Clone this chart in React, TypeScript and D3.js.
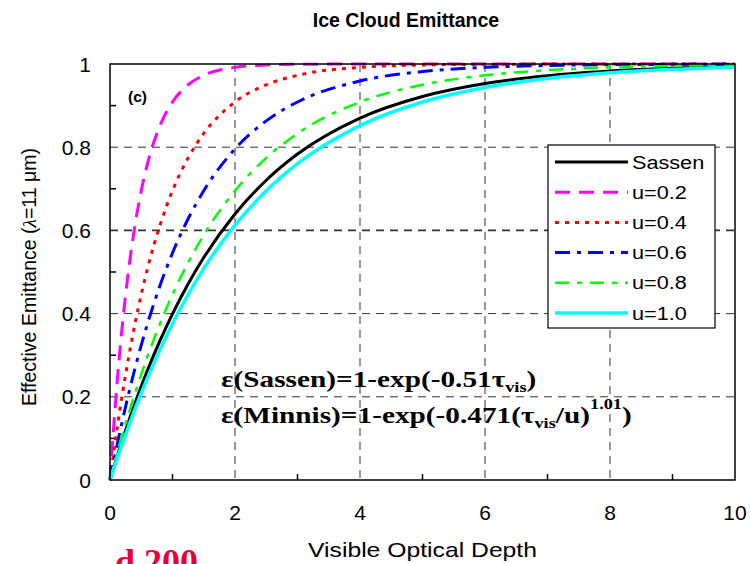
import React from "react";
import * as d3 from "d3";

const tau = [0, 0.05, 0.1, 0.15, 0.2, 0.3, 0.4, 0.5, 0.6, 0.8, 1, 1.25, 1.5, 2, 2.5, 3, 4, 5, 6, 7, 8, 10];
const sassen = [0, 0.0252, 0.0497, 0.0736, 0.097, 0.1419, 0.1845, 0.2251, 0.2636, 0.335, 0.3995, 0.4714, 0.5347, 0.6394, 0.7206, 0.7835, 0.87, 0.9219, 0.9531, 0.9718, 0.9831, 0.9939];
const u02 = [0, 0.1096, 0.2085, 0.2969, 0.3756, 0.508, 0.6127, 0.6953, 0.7604, 0.852, 0.9087, 0.9501, 0.9728, 0.9919, 0.9976, 0.9993, 0.9999, 1, 1, 1, 1, 1];
const u04 = [0, 0.056, 0.1096, 0.1605, 0.2085, 0.2969, 0.3756, 0.4457, 0.508, 0.6127, 0.6953, 0.7743, 0.833, 0.9087, 0.9501, 0.9728, 0.9919, 0.9976, 0.9993, 0.9998, 0.9999, 1];
const u06 = [0, 0.0376, 0.0742, 0.1096, 0.1438, 0.2085, 0.2686, 0.3241, 0.3756, 0.4673, 0.5457, 0.6279, 0.6953, 0.7959, 0.8634, 0.9087, 0.9592, 0.9819, 0.9919, 0.9964, 0.9984, 0.9997];
const u08 = [0, 0.0282, 0.056, 0.0832, 0.1096, 0.1605, 0.2085, 0.254, 0.2969, 0.3756, 0.4457, 0.5225, 0.5888, 0.6953, 0.7743, 0.833, 0.9087, 0.9501, 0.9728, 0.9852, 0.9919, 0.9976];
const u10 = [0, 0.0226, 0.045, 0.067, 0.0885, 0.1303, 0.1703, 0.2085, 0.2451, 0.3134, 0.3756, 0.4457, 0.508, 0.6127, 0.6953, 0.7604, 0.852, 0.9087, 0.9437, 0.9653, 0.9787, 0.9919];

const seriesNames = ["Sassen", "u=0.2", "u=0.4", "u=0.6", "u=0.8", "u=1.0"];
const seriesValues = [sassen, u02, u04, u06, u08, u10];
const xTicks = [0, 2, 4, 6, 8, 10];
const yTicks = [0, 0.2, 0.4, 0.6, 0.8, 1];
const yTickLabels = ["0", "0.2", "0.4", "0.6", "0.8", "1"];
const xMinor = [1, 3, 5, 7, 9];
const yMinor = [0.1, 0.3, 0.5, 0.7, 0.9];

const styles = [
  { color: "#000000", width: 3, dash: "" },
  { color: "#ff00ff", width: 3, dash: "15,9" },
  { color: "#ff0000", width: 3, dash: "4,6" },
  { color: "#0000ff", width: 3, dash: "15,7,4,7" },
  { color: "#00ff00", width: 2.5, dash: "14,8,5,8" },
  { color: "#00ffff", width: 3.5, dash: "" },
];

export default function App() {
  const W = 751, H = 564;
  const L = 110, R = 735, T = 64, B = 480;
  const x = d3.scaleLinear().domain([0, 10]).range([L, R]);
  const y = d3.scaleLinear().domain([0, 1]).range([B, T]);
  const line = d3
    .line<number>()
    .x((_, i) => x(tau[i]))
    .y((v) => y(v))
    .curve(d3.curveMonotoneX);
  const font = "'Liberation Sans', Arial, sans-serif";
  const serif = "'Liberation Serif', 'Times New Roman', serif";
  const legX = 548, legY = 145, legW = 167, legH = 183;

  return (
    <svg width={W} height={H} style={{ position: "absolute", left: 0, top: 0, background: "#fff" }} fontFamily={font}>
      <rect x={0} y={0} width={W} height={H} fill="#fff" />
      <text x={406} y={27} textAnchor="middle" fontSize={19.5} fontWeight="bold">Ice Cloud Emittance</text>

      {/* grid */}
      {xTicks.slice(1, -1).map((t) => (
        <line key={"gx" + t} x1={x(t)} x2={x(t)} y1={T} y2={B} stroke="#333" strokeWidth={1} strokeDasharray="8,6" />
      ))}
      {yTicks.slice(1, -1).map((t) => (
        <line key={"gy" + t} x1={L} x2={R} y1={y(t)} y2={y(t)} stroke="#333" strokeWidth={t === 0.6 ? 1.6 : 1} strokeDasharray="8,6" />
      ))}
      {xMinor.map((t) => (
        <line key={"mx" + t} x1={x(t)} x2={x(t)} y1={B} y2={B - 6} stroke="#000" strokeWidth={1.5} />
      ))}
      {yMinor.map((t) => (
        <line key={"my" + t} x1={L} x2={L + 6} y1={y(t)} y2={y(t)} stroke="#000" strokeWidth={1.5} />
      ))}

      {/* curves */}
      <g>
        {seriesValues.map((vals, i) => (
          <path key={seriesNames[i]} d={line(vals) || ""} fill="none" stroke={styles[i].color} strokeWidth={styles[i].width} strokeDasharray={styles[i].dash} strokeLinejoin="round" />
        ))}
      </g>

      <rect x={L} y={T} width={R - L} height={B - T} fill="none" stroke="#000" strokeWidth={1.5} />

      {/* tick labels */}
      {xTicks.map((t) => (
        <text key={"tx" + t} x={x(t)} y={520} textAnchor="middle" fontSize={21}>{t}</text>
      ))}
      {yTicks.map((t, i) => (
        <text key={"ty" + t} x={91} y={y(t) + 7.5} textAnchor="end" fontSize={21}>{yTickLabels[i]}</text>
      ))}

      <text x={422.5} y={557} textAnchor="middle" fontSize={21} textLength={229} lengthAdjust="spacingAndGlyphs">Visible Optical Depth</text>
      <text transform={`translate(36,277) rotate(-90)`} textAnchor="middle" fontSize={19.5}>
        Effective Emittance (<tspan fontFamily={serif} fontStyle="italic">λ</tspan>=11 μm)
      </text>

      <text x={128} y={102} fontSize={15.5} fontWeight="bold">(c)</text>

      {/* legend */}
      <rect x={legX} y={legY} width={legW} height={legH} fill="#fff" stroke="#000" strokeWidth={1.2} />
      {seriesNames.map((n, i) => {
        const yy = 162 + i * 30.2;
        return (
          <g key={"lg" + n}>
            <line x1={555} x2={628} y1={yy} y2={yy} stroke={styles[i].color} strokeWidth={styles[i].width} strokeDasharray={styles[i].dash} />
            <g transform={`translate(632,${yy + 6.5}) scale(1.14,1)`}>
              <text x={0} y={0} fontSize={19}>{n}</text>
            </g>
          </g>
        );
      })}

      {/* formulas */}
      <g transform="translate(221,387) scale(1.22,1)">
        <text x={0} y={0} fontFamily={serif} fontWeight="bold" fontSize={24}>
          ε(Sassen)=1-exp(-0.51τ<tspan fontSize={15} dy={5}>vis</tspan><tspan dy={-5}>)</tspan>
        </text>
      </g>
      <g transform="translate(221,423) scale(1.22,1)">
        <text x={0} y={0} fontFamily={serif} fontWeight="bold" fontSize={24}>
          ε(Minnis)=1-exp(-0.471(τ<tspan fontSize={15} dy={5}>vis</tspan><tspan dy={-5}>/u)</tspan><tspan fontSize={15} dy={-14}>1.01</tspan><tspan dy={14}>)</tspan>
        </text>
      </g>

      <text x={115} y={574} fontFamily={serif} fontWeight="bold" fontSize={36} fill="#e8003a">d.200</text>
    </svg>
  );
}
